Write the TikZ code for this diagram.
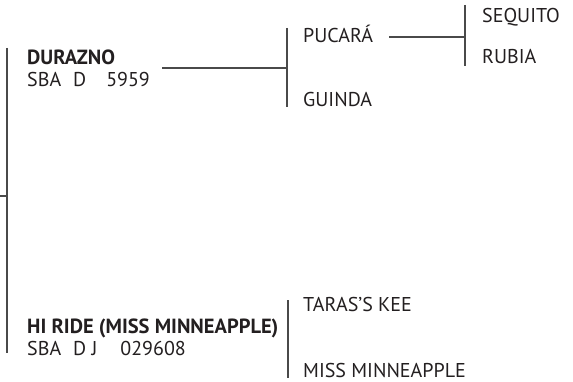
\documentclass[tikz,border=0pt]{standalone}
\usepackage{fontspec}
\setmainfont{PT Sans}
\usepackage{tikz}
\usetikzlibrary{positioning}

\definecolor{inkgray}{HTML}{231F20}
\definecolor{rulegray}{HTML}{4A4A4A}

\begin{document}
\begin{tikzpicture}[x=1pt, y=-1pt,
    horse/.style={anchor=base west, inner sep=0pt, text=inkgray, font=\fontsize{20.5}{22}\selectfont\bfseries},
    plain/.style={anchor=base west, inner sep=0pt, text=inkgray, font=\fontsize{20}{22}\selectfont},
    link/.style={draw=rulegray, line width=1.2pt}]
    \useasboundingbox (0,0) rectangle (573,382);

    % first generation
    \node (durazno) [horse] at (27,65) {DURAZNO};
    \node (duraznoReg) [plain] at ([yshift=-22pt]durazno.base west) {SBA\hspace{.6em}D\hspace{1em}5959};
    \node (hiride) [horse] at (27,333) {HI RIDE (MISS MINNEAPPLE)};
    \node (hirideReg) [plain] at ([yshift=-22pt]hiride.base west) {SBA\hspace{.6em}D J\hspace{1.15em}029608};

    % second generation
    \node (pucara) [plain] at (303,43) {PUCARÁ};
    \node (guinda) [plain] at (303,107) {GUINDA};
    \node (taras) [plain] at (303,311) {TARAS'S KEE};
    \node (missmin) [plain] at (303,377) {MISS MINNEAPPLE};

    % third generation
    \node (sequito) [plain] at (482,23) {SEQUITO};
    \node (rubia) [plain] at (482,64) {RUBIA};

    % brackets
    \coordinate (rootIn) at (0,196);
    \coordinate (rootMid) at (7,196);
    \coordinate (rootTop) at (7,48);
    \coordinate (rootBot) at (7,353);
    \coordinate (durOut) at (162,68);
    \coordinate (durMid) at (287,68);
    \coordinate (durTop) at (287,28);
    \coordinate (durBot) at (287,107);
    \coordinate (pucOut) at (389,37);
    \coordinate (pucMid) at (465,37);
    \coordinate (pucTop) at (465,5);
    \coordinate (pucBot) at (465,66);
    \coordinate (hirTop) at (288,300);
    \coordinate (hirBot) at (288,378);

    \draw [link] (rootIn) -- (rootMid);
    \draw [link] (rootTop) -- (rootBot);
    \draw [link] (durOut) -- (durMid);
    \draw [link] (durTop) -- (durBot);
    \draw [link] (pucOut) -- (pucMid);
    \draw [link] (pucTop) -- (pucBot);
    \draw [link] (hirTop) -- (hirBot);
\end{tikzpicture}
\end{document}
